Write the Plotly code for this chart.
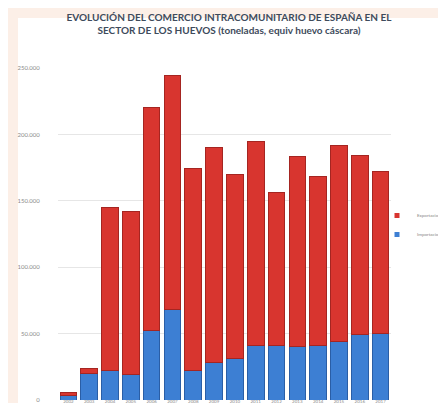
import plotly.graph_objects as go

years = ["2002", "2003", "2004", "2005", "2006", "2007", "2008", "2009",
         "2010", "2011", "2012", "2013", "2014", "2015", "2016", "2017"]
importaciones = [3500, 20000, 22500, 19500, 52000, 68000, 22500, 28500,
                 31500, 41000, 41000, 40000, 41000, 44000, 49000, 50000]
totales = [6000, 24000, 145000, 142000, 220000, 244000, 174000, 190000,
           170000, 195000, 156000, 183000, 168000, 192000, 184000, 172000]
exportaciones = [t - i for t, i in zip(totales, importaciones)]
y_ticks = [0, 50000, 100000, 150000, 200000, 250000]

RED, RED_D = "#d8352f", "#a52521"
BLUE, BLUE_D = "#3d7fd3", "#2a5ea6"

W, H = 446, 403
L, R, T, B = 50, 63, 60, 11
pw, ph = W - L - R, H - T - B

def px(x):
    return (x - L) / pw

def py(y):
    return (H - B - y) / ph

fig = go.Figure()
fig.add_trace(go.Bar(
    x=years, y=importaciones, name="Importaciones", showlegend=False,
    marker=dict(color=BLUE, line=dict(color=BLUE_D, width=1)),
))
fig.add_trace(go.Bar(
    x=years, y=exportaciones, name="Exportaciones", showlegend=False,
    marker=dict(color=RED, line=dict(color=RED_D, width=1)),
))
# legend entries with small markers
fig.add_trace(go.Scatter(
    x=[None], y=[None], mode="markers", name="Exportaciones",
    marker=dict(color=RED, size=5, symbol="square"),
))
fig.add_trace(go.Scatter(
    x=[None], y=[None], mode="markers", name="Importaciones",
    marker=dict(color=BLUE, size=5, symbol="square"),
))

fig.add_shape(type="rect", xref="paper", yref="paper",
              x0=px(10), x1=px(W + 20), y0=py(H + 20), y1=py(10),
              fillcolor="white", line=dict(width=0), layer="below")

fig.update_layout(
    width=W, height=H,
    margin=dict(l=L, r=R, t=T, b=B, autoexpand=False),
    paper_bgcolor="#fcefe7",
    plot_bgcolor="white",
    barmode="stack",
    bargap=0.2,
    separators=",.",
    font=dict(family="Lato", color="#888888", size=5),
    title=dict(
        text="<b>EVOLUCIÓN DEL COMERCIO INTRACOMUNITARIO DE ESPAÑA EN EL<br>"
             "SECTOR DE LOS HUEVOS (toneladas, equiv huevo cáscara)</b>",
        xref="container", x=221 / W, xanchor="center",
        yref="container", y=1 - 13 / H, yanchor="middle",
        font=dict(family="Lato", size=10, color="#3e4b5c"),
    ),
    legend=dict(
        x=px(369), xanchor="left", y=py(217), yanchor="middle",
        traceorder="normal", font=dict(size=4.5, color="#888888"),
        itemsizing="trace", bgcolor="rgba(0,0,0,0)",
    ),
    showlegend=True,
)
fig.update_yaxes(
    range=[0, 250000], tickvals=y_ticks, tickformat=",d",
    showgrid=True, gridcolor="#e6e6e6", gridwidth=1,
    zeroline=False, showline=False,
    ticks="outside", ticklen=16, tickcolor="rgba(0,0,0,0)",
    tickfont=dict(size=6, color="#8a8a8a"), automargin=False,
)
fig.update_xaxes(
    showgrid=False, showline=False, ticks="",
    ticklabelstandoff=-3,
    tickfont=dict(size=4.5, color="#8a8a8a"), automargin=False,
)

fig.write_html("out.html")
